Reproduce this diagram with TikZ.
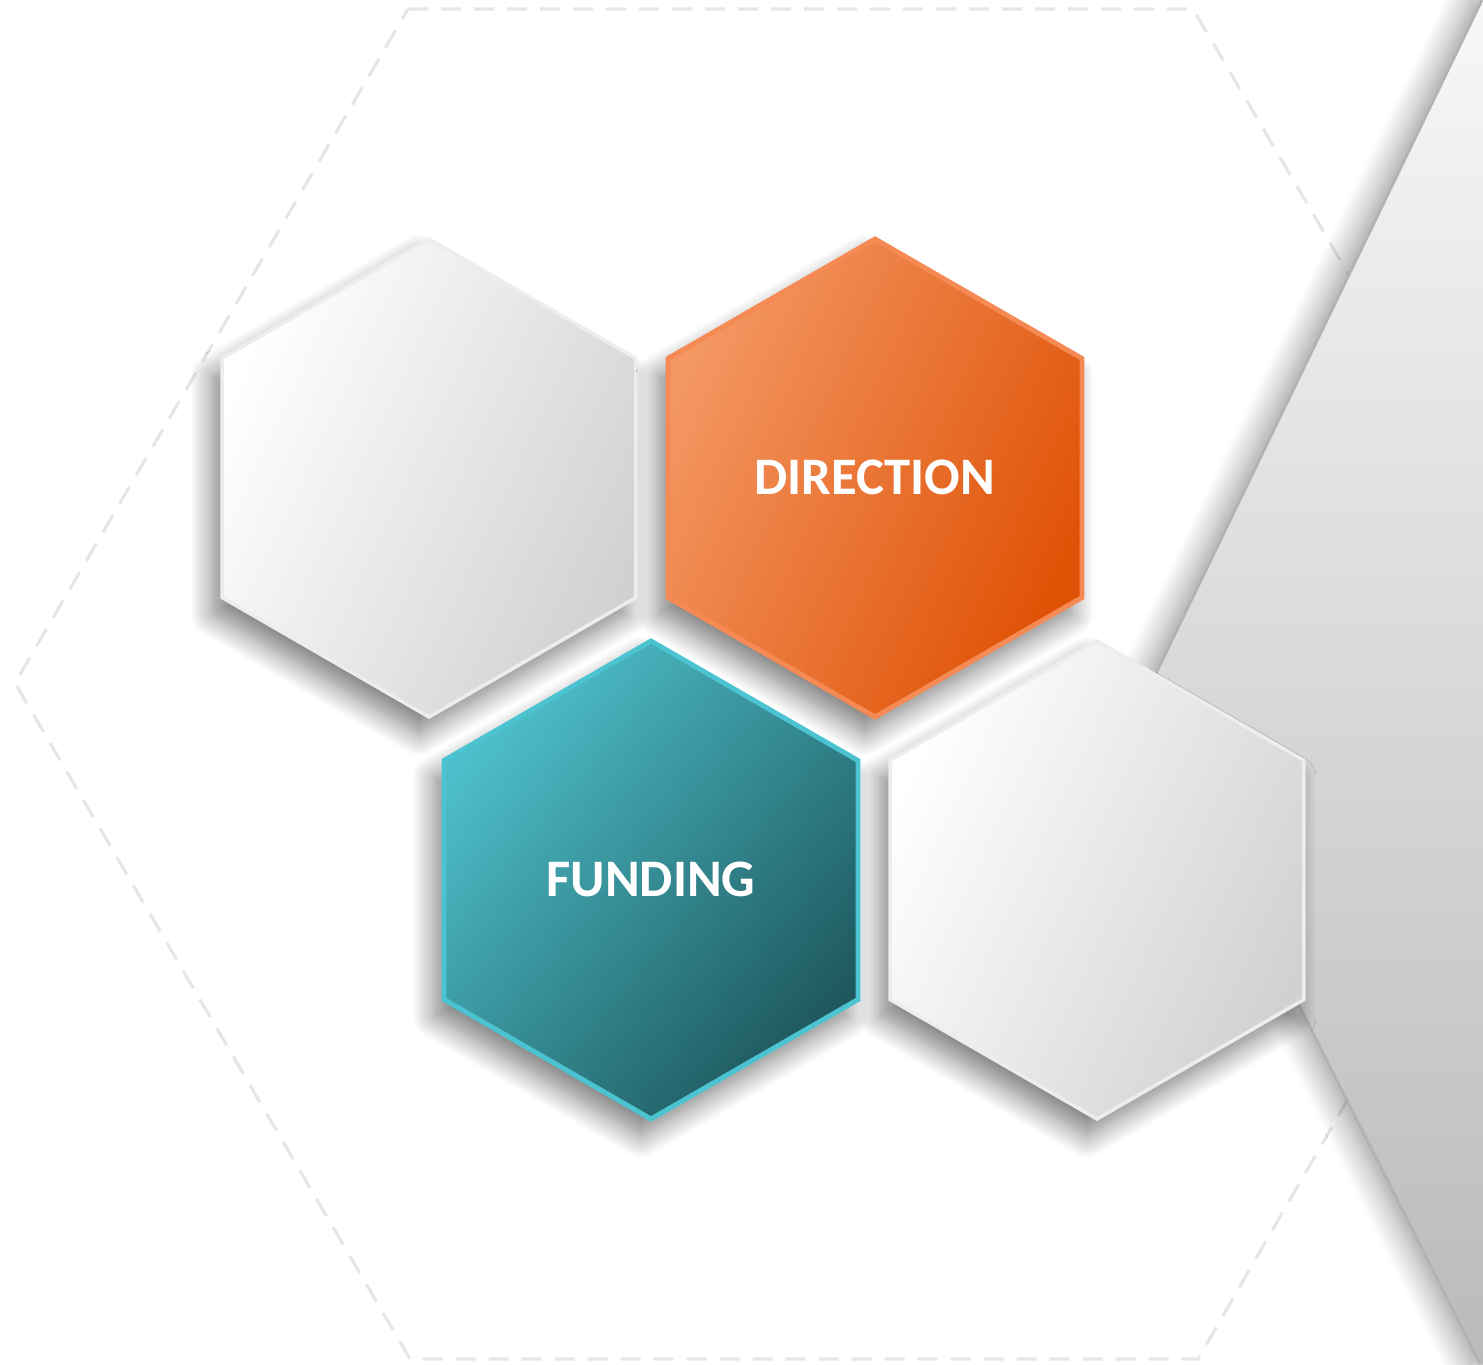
\documentclass[tikz,border=0pt]{standalone}
\usepackage{fontspec}
\setmainfont{Carlito}
\usepackage{tikz}
\usetikzlibrary{shadows.blur}

\definecolor{guidegray}{HTML}{E6E6E6}
\definecolor{orangelight}{HTML}{F49763}
\definecolor{orangedark}{HTML}{DF5104}
\definecolor{orangeline}{HTML}{F58A55}
\definecolor{teallight}{HTML}{4DBFCA}
\definecolor{tealdark}{HTML}{1E585E}
\definecolor{tealline}{HTML}{4CC3D0}

\begin{document}
\begin{tikzpicture}[
    guide/.style={draw=guidegray,line width=0.9pt,dash pattern=on 0.2cm off 0.13cm},
    hexshadow/.style={blur shadow={shadow xshift=-0.1cm,shadow yshift=-0.17cm,shadow blur radius=0.22cm,shadow blur steps=14,shadow opacity=50}},
    hexwhite/.style={hexshadow,draw=white!93!black,line width=1pt,top color=white,bottom color=black!18,shading angle=65},
    hexorange/.style={hexshadow,draw=orangeline,line width=1.4pt,top color=orangelight,bottom color=orangedark,shading angle=65},
    hexteal/.style={hexshadow,draw=tealline,line width=1.4pt,top color=teallight,bottom color=tealdark,shading angle=50},
    hextext/.style={text=white,font=\bfseries\fontsize{15}{18}\selectfont}
  ]
    \useasboundingbox (0,0) rectangle (14.83,13.64);
    \clip (0,0) rectangle (14.83,13.64);

    % dashed outline
    \draw[guide] (4.08,13.55) -- (11.93,13.55) -- (15.88,6.81) -- (11.98,0.05) -- (4.10,0.05) -- (0.15,6.81) -- cycle;

    % grey wedge on the right
    \path[blur shadow={shadow xshift=-0.1cm,shadow yshift=0cm,shadow blur radius=0.25cm,shadow blur steps=14,shadow opacity=40},
          top color=white!97!black,middle color=white!93!black,bottom color=black!27]
        (14.82,13.64) -- (11.44,6.66) -- (14.80,0) -- (15.6,0) -- (15.6,13.64) -- cycle;
    \draw[black!30,line width=0.8pt] (14.82,13.64) -- (11.44,6.66) -- (14.80,0);

    % hexagons
    \foreach \x/\y/\s in {4.29/8.86/hexwhite,10.97/4.84/hexwhite,6.51/4.84/hexteal,8.75/8.86/hexorange}
        \draw[\s] (\x,\y) +(90:2.39) -- +(150:2.39) -- +(210:2.39) -- +(270:2.39)
            -- +(330:2.39) -- +(30:2.39) -- cycle;

    \node[hextext] (direction) at (8.75,8.87) {DIRECTION};
    \node[hextext] (funding) at (6.51,4.85) {FUNDING};
\end{tikzpicture}
\end{document}
